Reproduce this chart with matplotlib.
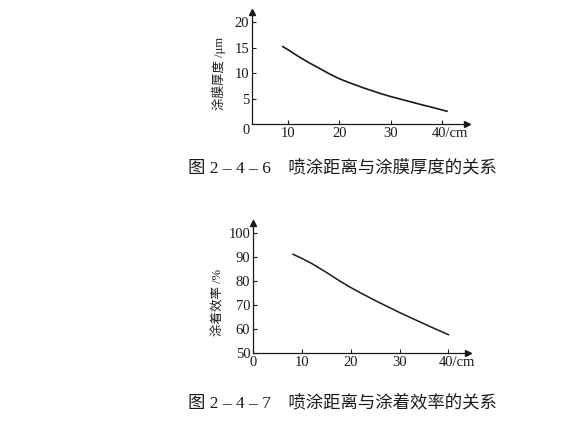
import numpy as np
import matplotlib
matplotlib.use("Agg")
import matplotlib.pyplot as plt
import matplotlib.transforms as mtransforms

dist_a = [9, 10, 12, 14, 16, 18, 20, 22, 25, 28, 30, 33, 36, 38, 41]
thick = [15.2, 14.6, 13.3, 12.1, 11.0, 9.9, 8.9, 8.1, 7.0, 6.0, 5.4, 4.6, 3.8, 3.3, 2.5]

dist_b = [8.2, 10, 12, 15, 18, 20, 22, 25, 28, 30, 33, 36, 38, 40]
eff = [91.0, 89.3, 87.2, 83.5, 79.6, 77.2, 75.0, 71.8, 68.8, 66.8, 64.0, 61.2, 59.4, 57.6]

CJK = ["Liberation Serif", "Noto Sans CJK SC", "DejaVu Sans"]
NUM = "Liberation Serif"
INK = "#1a1a1a"

W, H = 569, 423
fig = plt.figure(figsize=(W / 100, H / 100), dpi=100)


def box(x0, y0, x1, y1):
    """pixel box (left, top, right, bottom) -> figure fraction rect"""
    return [x0 / W, (H - y1) / H, (x1 - x0) / W, (y1 - y0) / H]


def style(ax):
    for s in ("top", "right"):
        ax.spines[s].set_visible(False)
    for s in ("left", "bottom"):
        ax.spines[s].set_linewidth(0.9)
        ax.spines[s].set_color(INK)
    ax.tick_params(direction="in", length=3, width=0.8, colors=INK,
                   labelsize=10.5, pad=2)
    for lb in ax.get_xticklabels() + ax.get_yticklabels():
        lb.set_family(NUM)
    # arrow heads on the axis ends
    ax.plot(1, 0, ">", color=INK, ms=4, transform=ax.transAxes, clip_on=False)
    ax.plot(0, 1, "^", color=INK, ms=4, transform=ax.transAxes, clip_on=False)


def cm_label(ax):
    lb = ax.get_xticklabels()[-1]
    lb.set_ha("left")
    lb.set_transform(lb.get_transform() +
                     mtransforms.ScaledTranslation(-7 / 72, 0, fig.dpi_scale_trans))


# --- fig 2-4-6 ---
ax1 = fig.add_axes(box(252, 12, 467, 124))
ax1.plot(dist_a, thick, color=INK, lw=1.2)
ax1.set_xlim(3, 44.9)
ax1.set_ylim(0, 22)
ax1.set_xticks([10, 20, 30, 40])
ax1.set_xticklabels(["10", "20", "30", "40/cm"])
ax1.set_yticks([5, 10, 15, 20])
style(ax1)
cm_label(ax1)
fig.text(246 / W, 1 - 131 / H, "0", ha="center", va="center",
         family=NUM, fontsize=10.5, color=INK)
fig.text(219 / W, 1 - 73 / H, "涂膜厚度 /μm", rotation=90, ha="center", va="center",
         family=CJK, fontsize=9, color=INK)
fig.text(188 / W, 1 - 168 / H, "图 2 – 4 – 6    喷涂距离与涂膜厚度的关系",
         ha="left", va="center", family=CJK, fontsize=12.5, color=INK)

# --- fig 2-4-7 ---
ax2 = fig.add_axes(box(253, 223, 468, 353))
ax2.plot(dist_b, eff, color=INK, lw=1.1)
ax2.set_xlim(0, 44)
ax2.set_ylim(50, 104)
ax2.set_xticks([0, 10, 20, 30, 40])
ax2.set_xticklabels(["0", "10", "20", "30", "40/cm"])
ax2.set_yticks([50, 60, 70, 80, 90, 100])
style(ax2)
cm_label(ax2)
fig.text(219 / W, 1 - 302 / H, "涂着效率 /%", rotation=90, ha="center", va="center",
         family=CJK, fontsize=9, color=INK)
fig.text(188 / W, 1 - 403 / H, "图 2 – 4 – 7    喷涂距离与涂着效率的关系",
         ha="left", va="center", family=CJK, fontsize=12.5, color=INK)

fig.savefig("out.png", dpi=100)
